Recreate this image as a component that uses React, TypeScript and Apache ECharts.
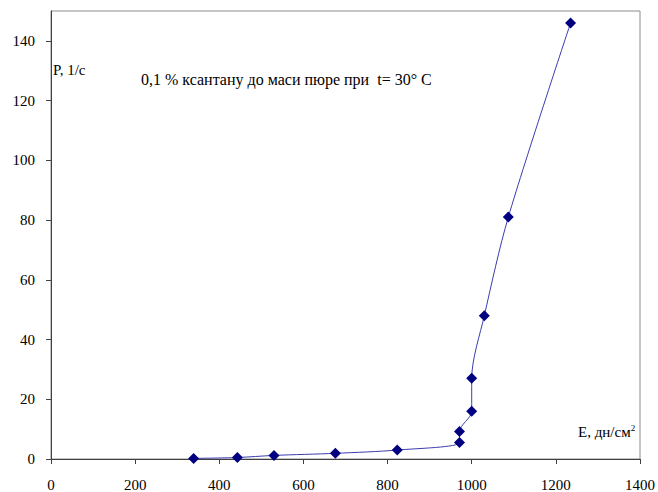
import React, { useEffect, useRef } from "react";
import * as echarts from "echarts";

const xValues = [339, 443, 530, 676, 823, 971, 971, 1000, 1000, 1030, 1087, 1235];
const yValues = [0.2, 0.5, 1.2, 1.9, 3.0, 5.5, 9.2, 16, 27, 48, 81, 146];
const yTickLabels = [0, 20, 40, 60, 80, 100, 120, 140];
const xTickLabels = [0, 200, 400, 600, 800, 1000, 1200, 1400];

const chartTitle = "0,1 % ксантану до маси пюре при  t= 30° С";
const yAxisName = "P, 1/с";
const xAxisName = "E, дн/см";

const FONT = "Liberation Serif, Times New Roman, serif";

export default function App() {
  const ref = useRef<HTMLDivElement>(null);

  useEffect(() => {
    document.body.style.margin = "0";
    if (!ref.current) return;
    const chart = echarts.init(ref.current, undefined, { renderer: "svg" });
    const points = xValues.map((x, i) => [x, yValues[i]]);
    chart.setOption({
      animation: false,
      backgroundColor: "#ffffff",
      textStyle: { fontFamily: FONT },
      grid: {
        left: 51,
        right: 18,
        top: 11,
        bottom: 32,
        show: true,
        borderColor: "#8c8c8c",
        borderWidth: 1,
        backgroundColor: "transparent",
      },
      xAxis: {
        type: "value",
        min: 0,
        max: 1400,
        interval: 200,
        splitLine: { show: false },
        axisLine: { show: true, onZero: false, lineStyle: { color: "#404040", width: 1 } },
        axisTick: { show: true, length: 5, inside: false, lineStyle: { color: "#404040" } },
        axisLabel: {
          margin: 18,
          color: "#000",
          fontFamily: FONT,
          fontSize: 15,
          customValues: xTickLabels,
          formatter: (v: number) => String(v),
        },
      },
      yAxis: {
        type: "value",
        min: 0,
        max: 150,
        interval: 20,
        splitLine: { show: false },
        axisLine: { show: true, onZero: false, lineStyle: { color: "#404040", width: 1 } },
        axisTick: {
          show: true,
          length: 5,
          inside: false,
          lineStyle: { color: "#404040" },
          customValues: yTickLabels,
        },
        axisLabel: {
          margin: 16,
          color: "#000",
          fontFamily: FONT,
          fontSize: 15,
          customValues: yTickLabels,
          formatter: (v: number) => String(v),
        },
      },
      series: [
        {
          type: "line",
          data: points,
          smooth: 0.3,
          symbol: "diamond",
          symbolSize: 11,
          lineStyle: { color: "#3c3cae", width: 1 },
          itemStyle: { color: "#000080" },
        },
      ],
      graphic: [
        {
          type: "text",
          left: 53,
          top: 62,
          style: { text: yAxisName, fontFamily: FONT, fontSize: 15, fill: "#000" },
        },
        {
          type: "text",
          left: 141,
          top: 71,
          style: { text: chartTitle, fontFamily: FONT, fontSize: 16, fill: "#000" },
        },
        {
          type: "text",
          left: 578,
          top: 423,
          style: {
            text: "{a|" + xAxisName + "}{s|2}",
            fontFamily: FONT,
            fontSize: 15,
            fill: "#000",
            rich: {
              a: { fontFamily: FONT, fontSize: 15, fill: "#000" },
              s: { fontFamily: FONT, fontSize: 9, fill: "#000", verticalAlign: "top", padding: [0, 0, 8, 0] },
            },
          },
        },
      ],
    });
    return () => chart.dispose();
  }, []);

  return <div ref={ref} style={{ width: 658, height: 492 }} />;
}
